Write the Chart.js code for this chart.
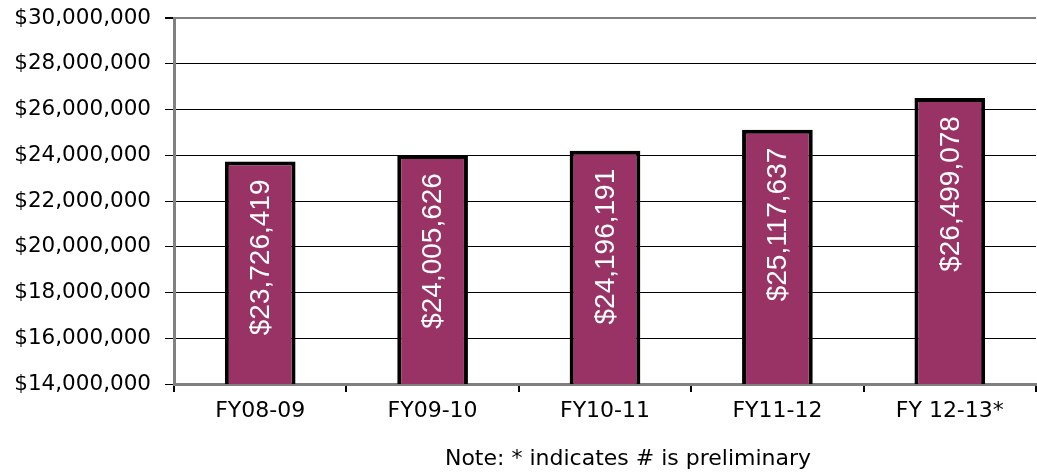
<!DOCTYPE html>
<html>
<head>
<meta charset="utf-8">
<script src="https://cdn.jsdelivr.net/npm/chart.js@4"></script>
<style>
  html, body { margin: 0; padding: 0; background: #fff; }
  #wrap { width: 1037px; height: 472px; }
</style>
</head>
<body>
<div id="wrap"><canvas id="myChart"></canvas></div>
<script>
const categories = ['FY08-09', 'FY09-10', 'FY10-11', 'FY11-12', 'FY 12-13*'];
const revenue = [23726419, 24005626, 24196191, 25117637, 26499078];
const yMin = 14000000;
const yMax = 30000000;
const yStep = 2000000;
const note = 'Note: * indicates # is preliminary';

const money = v => '$' + Number(v).toLocaleString('en-US');

// white vertical value labels near the top of each bar
const barLabels = {
    id: 'barLabels',
    afterDatasetsDraw(chart) {
        const c = chart.ctx;
        const meta = chart.getDatasetMeta(0);
        c.save();
        c.fillStyle = '#ffffff';
        c.font = '28px "Liberation Sans", Arial, sans-serif';
        c.textAlign = 'right';
        c.textBaseline = 'middle';
        meta.data.forEach((bar, i) => {
            c.save();
            c.translate(bar.x + 1, bar.y + 18);
            c.rotate(-Math.PI / 2);
            c.fillText(money(revenue[i]), 0, 0);
            c.restore();
        });
        c.restore();
    }
};

// footnote under the axis
const footNote = {
    id: 'footNote',
    afterDraw(chart) {
        const c = chart.ctx;
        c.save();
        c.fillStyle = '#000000';
        c.font = '22px "DejaVu Sans", sans-serif';
        c.textAlign = 'center';
        c.textBaseline = 'middle';
        c.fillText(note, 628, 459);
        c.restore();
    }
};

const ctx = document.getElementById('myChart').getContext('2d');
const myChart = new Chart(ctx, {
    type: 'bar',
    data: {
        labels: categories,
        datasets: [{
            data: revenue,
            backgroundColor: '#993366',
            borderColor: '#000000',
            borderWidth: 4,
            borderSkipped: false,
            barPercentage: 0.41,
            categoryPercentage: 1
        }]
    },
    options: {
        responsive: true,
        maintainAspectRatio: false,
        animation: false,
        layout: { padding: { top: 18, right: 1, left: 0, bottom: 0 } },
        plugins: {
            legend: { display: false },
            tooltip: { enabled: false }
        },
        scales: {
            y: {
                min: yMin,
                max: yMax,
                afterFit(scale) {
                    scale.width = 174;
                    scale.paddingTop = 0;
                    scale.paddingBottom = 0;
                },
                ticks: {
                    stepSize: yStep,
                    color: '#000000',
                    padding: 14,
                    font: { family: '"DejaVu Sans", sans-serif', size: 21.5 },
                    callback: v => money(v)
                },
                grid: {
                    color: c => c.tick && c.tick.value === yMax ? '#808080' : '#000000',
                    lineWidth: c => c.tick && c.tick.value === yMax ? 2 : 1,
                    tickColor: '#000000',
                    tickLength: 9
                },
                border: { color: '#808080', width: 3 }
            },
            x: {
                afterFit(scale) { scale.height = 88; },
                ticks: {
                    color: '#000000',
                    padding: 6,
                    font: { family: '"DejaVu Sans", sans-serif', size: 22 }
                },
                grid: {
                    offset: true,
                    drawOnChartArea: false,
                    color: '#000000',
                    lineWidth: 2,
                    tickLength: 8
                },
                border: { color: '#808080', width: 3 }
            }
        }
    },
    plugins: [barLabels, footNote]
});
</script>
</body>
</html>
